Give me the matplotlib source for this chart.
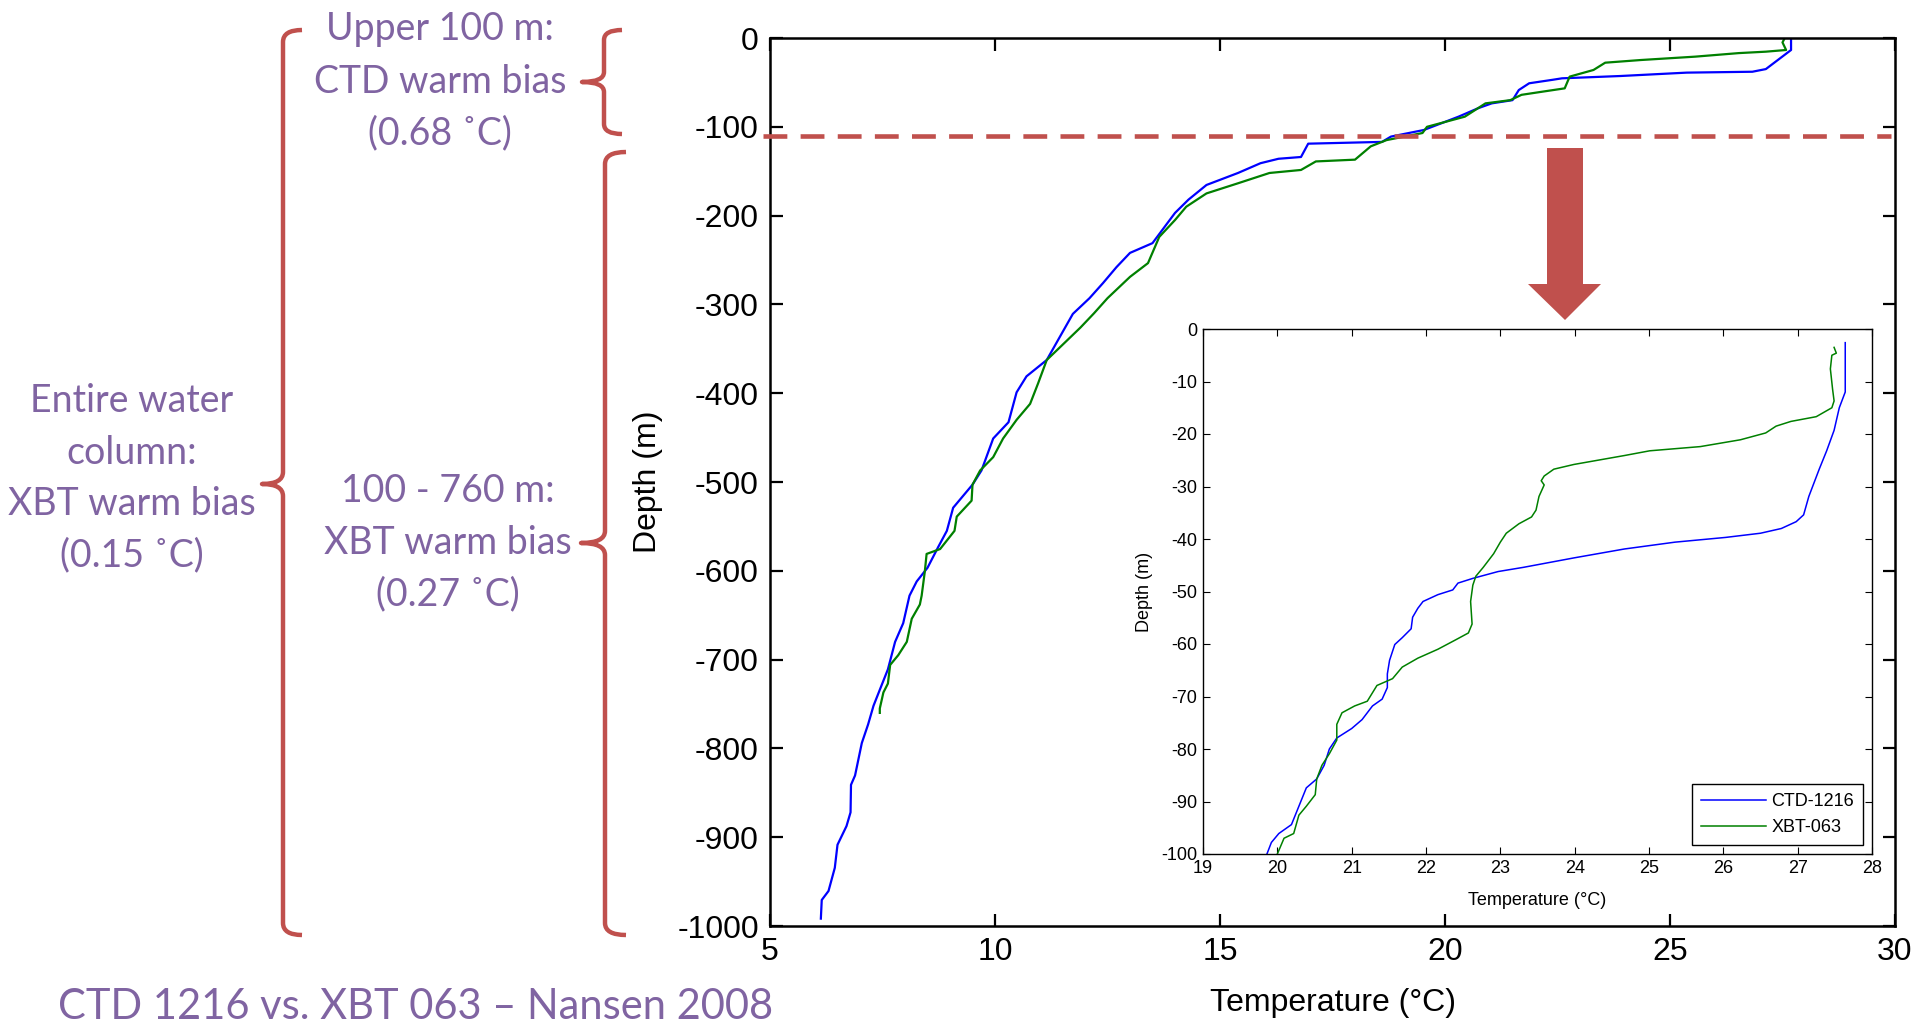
import matplotlib
matplotlib.use("Agg")
import matplotlib.pyplot as plt
from matplotlib import font_manager
from matplotlib.path import Path
from matplotlib.patches import PathPatch, Polygon
from matplotlib.transforms import Affine2D

plt.rcParams["axes.unicode_minus"] = False

# ---------------- data ----------------
ctd_temp = [27.69, 27.69, 27.13, 26.83, 25.37, 23.9, 22.6, 22.4, 21.87, 21.64, 21.5, 21.04,
            20.74, 20.3, 19.53, 18.8, 18.6, 16.96, 16.8, 16.3, 15.9, 15.4, 14.7, 14.3, 14.0,
            13.5, 13.0, 12.7, 12.4, 12.1, 11.73, 11.15, 10.7, 10.48, 10.3, 9.96, 9.7, 9.5,
            9.07, 8.93, 8.74, 8.5, 8.26, 8.1, 7.96, 7.78, 7.62, 7.44, 7.3, 7.18, 7.04, 6.89,
            6.8, 6.79, 6.7, 6.5, 6.44, 6.3, 6.15, 6.13]
ctd_depth = [0, -13.5, -35, -38, -39, -42.8, -45.4, -47, -51, -58.6, -70, -73.6,
             -79, -88.6, -103.6, -111, -117, -119, -134, -136, -141, -152, -165.5, -182, -197,
             -231, -242, -258, -276, -293, -310.7, -362.6, -381, -399, -432.7, -451, -487, -503,
             -529, -555, -573, -596.6, -612, -628, -659, -680, -711, -734, -752, -773, -794, -830.5,
             -841, -872, -887.5, -908.5, -934.5, -960.6, -970.7, -991.7]

xbt_temp = [27.55, 27.5, 27.58, 27.13, 26.53, 25.56, 24.35, 23.56, 23.3, 22.77, 22.66, 22.17,
            21.7, 21.45, 20.9, 20.44, 19.6, 19.5, 18.7, 18.35, 18.0, 17.13, 16.8, 16.1, 15.4,
            14.7, 14.25, 14.0, 13.65, 13.4, 13.0, 12.5, 12.2, 11.9, 11.15, 10.96, 10.78, 10.48,
            10.18, 9.96, 9.67, 9.5, 9.48, 9.15, 9.1, 8.78, 8.48, 8.44, 8.37, 8.33, 8.15, 8.04,
            7.85, 7.67, 7.62, 7.52, 7.44, 7.44]
xbt_depth = [0, -5, -13.5, -15.4, -17, -21, -24.8, -27.8, -36, -43.5, -56.7, -60.4,
             -64, -70, -73.6, -88.6, -100, -107, -115, -122, -137, -139, -148.6, -152, -163.6,
             -175, -190, -205, -224, -253.5, -269, -293, -310, -326, -362.6, -388.6, -412, -430,
             -451, -472, -487, -503, -521, -539, -555, -575.5, -581, -601, -628, -638, -654, -680,
             -695, -706, -727, -737, -755, -760]

ins_ctd_temp = [27.64, 27.64, 27.56, 27.49, 27.39, 27.29, 27.22, 27.15, 27.08, 26.98, 26.78,
                26.5, 26.03, 25.35, 24.67, 23.99, 23.31, 22.97, 22.63, 22.43, 22.36, 22.16,
                21.96, 21.89, 21.82, 21.8, 21.68, 21.58, 21.51, 21.48, 21.48, 21.41, 21.28,
                21.14, 21.0, 20.8, 20.7, 20.63, 20.53, 20.39, 20.29, 20.19, 20.02, 19.92, 19.86]
ins_ctd_depth = [-2.6, -12, -15, -19.3, -23.2, -26.7, -29.3, -31.9, -35.4, -36.7, -38,
                 -38.9, -39.7, -40.6, -41.9, -43.6, -45.4, -46.2, -47.5, -48.4, -49.7, -50.6,
                 -51.9, -53.2, -54.9, -57.1, -58.8, -60.1, -63.1, -65.7, -68.3, -70.5, -71.8,
                 -74.4, -76.1, -77.9, -80, -83.1, -85.7, -87.4, -90.9, -94.4, -96.1, -97.8, -100]

ins_xbt_temp = [27.49, 27.52, 27.46, 27.44, 27.47, 27.49, 27.46, 27.25, 26.91, 26.71, 26.57,
                26.23, 25.69, 25.01, 24.67, 23.99, 23.72, 23.59, 23.55, 23.59, 23.52, 23.48,
                23.42, 23.25, 23.08, 23.0, 22.91, 22.77, 22.67, 22.63, 22.6, 22.62, 22.57,
                22.4, 22.16, 21.89, 21.68, 21.55, 21.34, 21.21, 21.04, 20.87, 20.8, 20.8,
                20.7, 20.6, 20.53, 20.51, 20.39, 20.29, 20.22, 20.09, 20.0]
ins_xbt_depth = [-3.5, -4.6, -5, -7.6, -11.5, -13.7, -15, -16.7, -17.6, -18.5, -19.8,
                 -21.1, -22.4, -23.2, -24.1, -25.8, -26.7, -28, -28.9, -29.7, -31.9, -34.5,
                 -35.8, -37.1, -38.9, -40.6, -42.8, -45.4, -47.1, -48.8, -51.9, -56.2, -57.9,
                 -59.2, -61, -62.7, -64.4, -66.6, -67.9, -70.9, -71.8, -73.1, -75.3, -78.3,
                 -80.9, -83.1, -85.7, -88.7, -90.9, -92.6, -96.1, -97, -100]

main_xticks = [5, 10, 15, 20, 25, 30]
main_yticks = [0, -100, -200, -300, -400, -500, -600, -700, -800, -900, -1000]
inset_xticks = [19, 20, 21, 22, 23, 24, 25, 26, 27, 28]
inset_yticks = [0, -10, -20, -30, -40, -50, -60, -70, -80, -90, -100]
split_depth = -110
legend_labels = ["CTD-1216", "XBT-063"]

# ---------------- style ----------------
W, H = 1911, 1024
PURPLE = "#8064A2"
RED = "#C0504D"
BLUE = "#0000FF"
GREEN = "#008000"

names = {f.name for f in font_manager.fontManager.ttflist}
tick_font = "Liberation Sans Narrow" if "Liberation Sans Narrow" in names else "Liberation Sans"
text_font = "Lato" if "Lato" in names else "DejaVu Sans"

fig = plt.figure(figsize=(W / 100, H / 100), dpi=100)
pxT = Affine2D().scale(1 / W, -1 / H).translate(0, 1) + fig.transFigure


def fx(x0, y0, x1, y1):
    return [x0 / W, 1 - y1 / H, (x1 - x0) / W, (y1 - y0) / H]


# ---------------- main axes ----------------
ax = fig.add_axes(fx(770, 38, 1895, 926))
ax.plot(ctd_temp, ctd_depth, color=BLUE, lw=1.6)
ax.plot(xbt_temp, xbt_depth, color=GREEN, lw=1.6)
ax.set_xlim(5, 30)
ax.set_ylim(-1000, 0)
ax.set_xticks(main_xticks)
ax.set_yticks(main_yticks)
ax.tick_params(direction="in", top=True, right=True, length=9, width=1.6,
               labelsize=23, pad=8)
for lab in ax.get_xticklabels() + ax.get_yticklabels():
    lab.set_family(tick_font)
for s in ax.spines.values():
    s.set_linewidth(1.8)
ax.set_xlabel("Temperature (°C)", fontsize=23, family=tick_font, labelpad=15)
ax.set_ylabel("Depth (m)", fontsize=23, family=tick_font, labelpad=10)

# dashed split line
ax.plot([4.85, 29.9], [split_depth, split_depth], color=RED, lw=3.3,
        linestyle=(0, (5.2, 2.9)), dash_capstyle="butt", clip_on=False, zorder=5)

# ---------------- inset ----------------
axi = fig.add_axes(fx(1203, 329, 1872, 854))
axi.set_facecolor("white")
axi.plot(ins_ctd_temp, ins_ctd_depth, color=BLUE, lw=1.1, label=legend_labels[0])
axi.plot(ins_xbt_temp, ins_xbt_depth, color=GREEN, lw=1.1, label=legend_labels[1])
axi.set_xlim(19, 28)
axi.set_ylim(-100, 0)
axi.set_xticks(inset_xticks)
axi.set_yticks(inset_yticks)
axi.tick_params(direction="in", top=True, right=True, length=5, width=0.8,
                labelsize=13, pad=4)
for lab in axi.get_xticklabels() + axi.get_yticklabels():
    lab.set_family(tick_font)
for s in axi.spines.values():
    s.set_linewidth(1.0)
axi.set_xlabel("Temperature (°C)", fontsize=13, family=tick_font, labelpad=11)
axi.set_ylabel("Depth (m)", fontsize=13, family=tick_font, labelpad=6)
leg = axi.legend(loc="lower right", frameon=True, fancybox=False,
                 edgecolor="black", framealpha=1, handlelength=3.6, handletextpad=0.3,
                 borderaxespad=0.5, borderpad=0.5,
                 prop={"family": tick_font, "size": 13})
leg.get_frame().set_linewidth(1.0)

# ---------------- arrow ----------------
arrow = Polygon([(1547, 148), (1583, 148), (1583, 284), (1601, 284), (1565, 320),
                 (1528, 284), (1547, 284)], closed=True, facecolor=RED,
                edgecolor="none", transform=pxT)
fig.add_artist(arrow)


# ---------------- braces ----------------
def brace(x, ytop, ybot, ymid, end_w, tip_w, r=12):
    verts = [(x + end_w, ytop), (x, ytop), (x, ytop + r),
             (x, ymid - r), (x, ymid), (x - tip_w, ymid),
             (x, ymid), (x, ymid + r),
             (x, ybot - r), (x, ybot), (x + end_w, ybot)]
    codes = [Path.MOVETO, Path.CURVE3, Path.CURVE3,
             Path.LINETO, Path.CURVE3, Path.CURVE3,
             Path.CURVE3, Path.CURVE3,
             Path.LINETO, Path.CURVE3, Path.CURVE3]
    p = PathPatch(Path(verts, codes), facecolor="none", edgecolor=RED, lw=3.2,
                  transform=pxT, capstyle="butt", joinstyle="round")
    fig.add_artist(p)


brace(283, 30, 935, 484, 19, 21)
brace(604, 30, 134, 82, 18, 22, r=10)
brace(605, 152, 935, 543, 21, 24)

# ---------------- texts ----------------
tkw = dict(color=PURPLE, family=text_font, fontsize=27, ha="center", va="baseline",
           transform=pxT)
fig.text(440, 40, "Upper 100 m:", **tkw)
fig.text(440, 93, "CTD warm bias", **tkw)
fig.text(440, 144, "(0.68 ˚C)", **tkw)

fig.text(132, 412, "Entire water", **tkw)
fig.text(132, 464, "column:", **tkw)
fig.text(132, 515, "XBT warm bias", **tkw)
fig.text(132, 566, "(0.15 ˚C)", **tkw)

fig.text(448, 502, "100 - 760 m:", **tkw)
fig.text(448, 554, "XBT warm bias", **tkw)
fig.text(448, 605, "(0.27 ˚C)", **tkw)

fig.text(58, 1019, "CTD 1216 vs. XBT 063 – Nansen 2008", color=PURPLE,
         family=text_font, fontsize=30, ha="left", va="baseline", transform=pxT)

fig.savefig("out.png", dpi=100)
